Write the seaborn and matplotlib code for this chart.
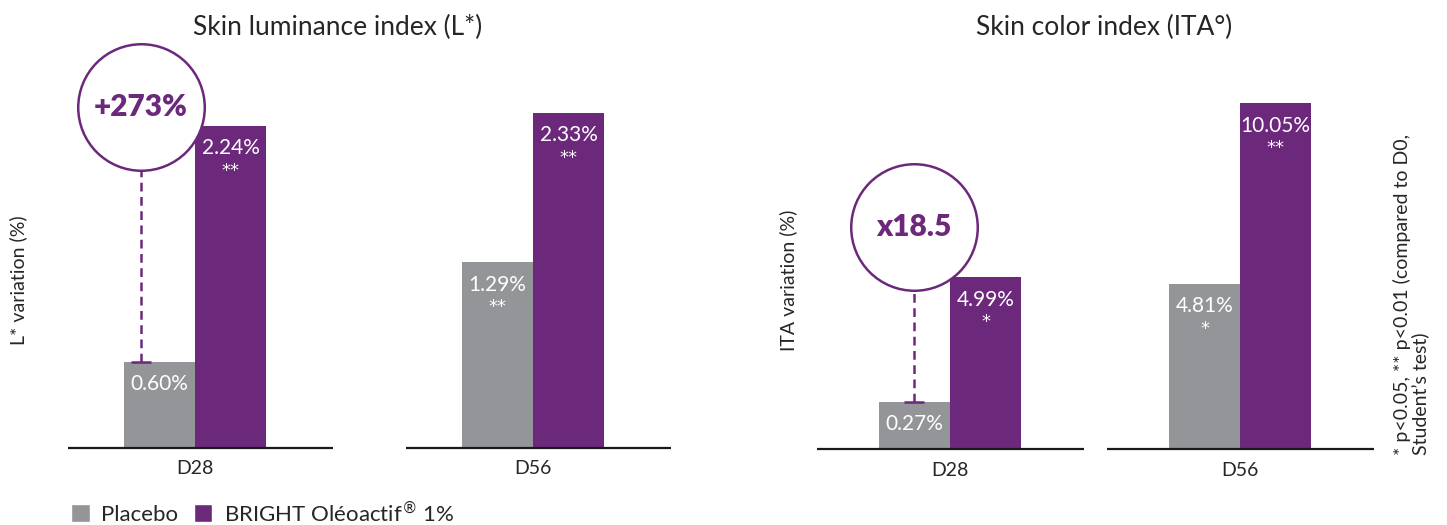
import matplotlib as mpl

mpl.use('Agg')
import matplotlib.pyplot as plt
import pandas as pd
import seaborn as sns
from matplotlib.patches import Patch

days = ["D28", "D56"]
products = ["Placebo", "BRIGHT Oléoactif® 1%"]

lum_placebo = [0.60, 1.29]
lum_bright = [2.24, 2.33]
lum_placebo_stars = ["", "**"]
lum_bright_stars = ["**", "**"]

ita_placebo = [0.27, 4.81]
ita_bright = [4.99, 10.05]
# the short D28 placebo bar is drawn taller than its value in the original
ita_placebo_drawn = [1.37, 4.81]
ita_placebo_stars = ["", "*"]
ita_bright_stars = ["*", "**"]

lum_callout = "+273%"
ita_callout = "x18.5"

GREY = "#939598"
PURPLE = "#6C297B"
W, H = 1447, 525

sns.set_style("white")
plt.rcParams['font.family'] = ['Lato', 'DejaVu Sans']


def px_axes(fig, left, right, top, bottom):
    return fig.add_axes([left / W, 1 - bottom / H, (right - left) / W, (bottom - top) / H])


def make_df(placebo, bright):
    return pd.DataFrame({
        "day": days * 2,
        "product": [products[0]] * 2 + [products[1]] * 2,
        "value": list(placebo) + list(bright),
    })


def draw_panel(ax, df, labels, stars, width, ymax, half, offset, callout, cxy):
    sns.barplot(data=df, x="day", y="value", hue="product", hue_order=products,
                palette=[GREY, PURPLE], saturation=1, width=width, ax=ax,
                legend=False, errorbar=None, linewidth=0)
    ax.set_xlim(-0.5, 1.5)
    ax.set_ylim(0, ymax)
    for sp in ax.spines.values():
        sp.set_visible(False)
    ax.set_yticks([])
    ax.set_xlabel("")
    ax.set_ylabel("")
    ax.tick_params(axis="x", length=0, pad=9, labelsize=14)
    for i in range(len(days)):
        ax.hlines(0, i - half + offset, i + half + offset, color="#1a1a1a", lw=1.6, clip_on=False, zorder=3)
    for cont, labs, sts in zip(ax.containers, labels, stars):
        for bar, lab, st in zip(cont, labs, sts):
            xc = bar.get_x() + bar.get_width() / 2
            top = bar.get_height()
            ax.annotate(lab, (xc, top), xytext=(0, -9), textcoords="offset points",
                        ha="center", va="top", color="white", fontsize=15)
            if st:
                ax.annotate(st, (xc, top), xytext=(0, -36), textcoords="offset points",
                            ha="center", va="baseline", color="white", fontsize=13,
                            family="DejaVu Sans")
    # callout circle linked to the placebo D28 bar
    grey_bar = ax.containers[0][0]
    cx, cy = cxy
    top = grey_bar.get_height()
    ax.plot([cx, cx], [top, cy], color=PURPLE, lw=1.8, dashes=(3.5, 2.2), zorder=4)
    ax.plot([cx], [top], marker="_", ms=14, mew=1.8, color=PURPLE, zorder=4)
    ax.scatter([cx], [cy], s=8300, facecolor="white", edgecolor=PURPLE, linewidth=1.8,
               zorder=5, clip_on=False)
    ax.text(cx, cy, callout, ha="center", va="center", color=PURPLE, fontsize=21.5,
            fontweight="heavy", zorder=6)


fig = plt.figure(figsize=(W / 100, H / 100), dpi=100)

ax1 = px_axes(fig, 26, 702, 20, 448)
draw_panel(ax1, make_df(lum_placebo, lum_bright),
           [[f"{v:.2f}%" for v in lum_placebo], [f"{v:.2f}%" for v in lum_bright]],
           [lum_placebo_stars, lum_bright_stars],
           width=0.423, ymax=2.976, half=0.392, offset=0.017,
           callout=lum_callout, cxy=(-0.16, 2.37))

ax2 = px_axes(fig, 805, 1385, 20, 449)
draw_panel(ax2, make_df(ita_placebo_drawn, ita_bright),
           [[f"{v:.2f}%" for v in ita_placebo], [f"{v:.2f}%" for v in ita_bright]],
           [ita_placebo_stars, ita_bright_stars],
           width=0.49, ymax=12.47, half=0.46, offset=0.003,
           callout=ita_callout, cxy=(-0.124, 6.45))

fig.text(338 / W, 1 - 27 / H, "Skin luminance index (L*)", ha="center", va="center", fontsize=19)
fig.text(1104 / W, 1 - 27 / H, "Skin color index (ITA°)", ha="center", va="center", fontsize=19)
fig.text(18 / W, 1 - 280 / H, "L* variation (%)", rotation=90, ha="center", va="center", fontsize=14)
fig.text(788 / W, 1 - 280 / H, "ITA variation (%)", rotation=90, ha="center", va="center", fontsize=14)
fig.text(1411 / W, 1 - 455 / H, "* p<0.05, ** p<0.01 (compared to D0,\nStudent’s test)",
         rotation=90, ha="center", va="bottom", fontsize=14, multialignment="left", linespacing=1.0)

handles = [Patch(facecolor=GREY), Patch(facecolor=PURPLE)]
legend_labels = [products[0], "BRIGHT Oléoactif$^{®}$ 1%"]
fig.legend(handles, legend_labels, loc="lower left", bbox_to_anchor=(71 / W, 0.0), ncol=2,
           frameon=False, fontsize=16, handlelength=0.85, handleheight=0.85,
           handletextpad=0.5, columnspacing=0.7, borderpad=0, borderaxespad=0)

fig.savefig("out.png", dpi=100)
